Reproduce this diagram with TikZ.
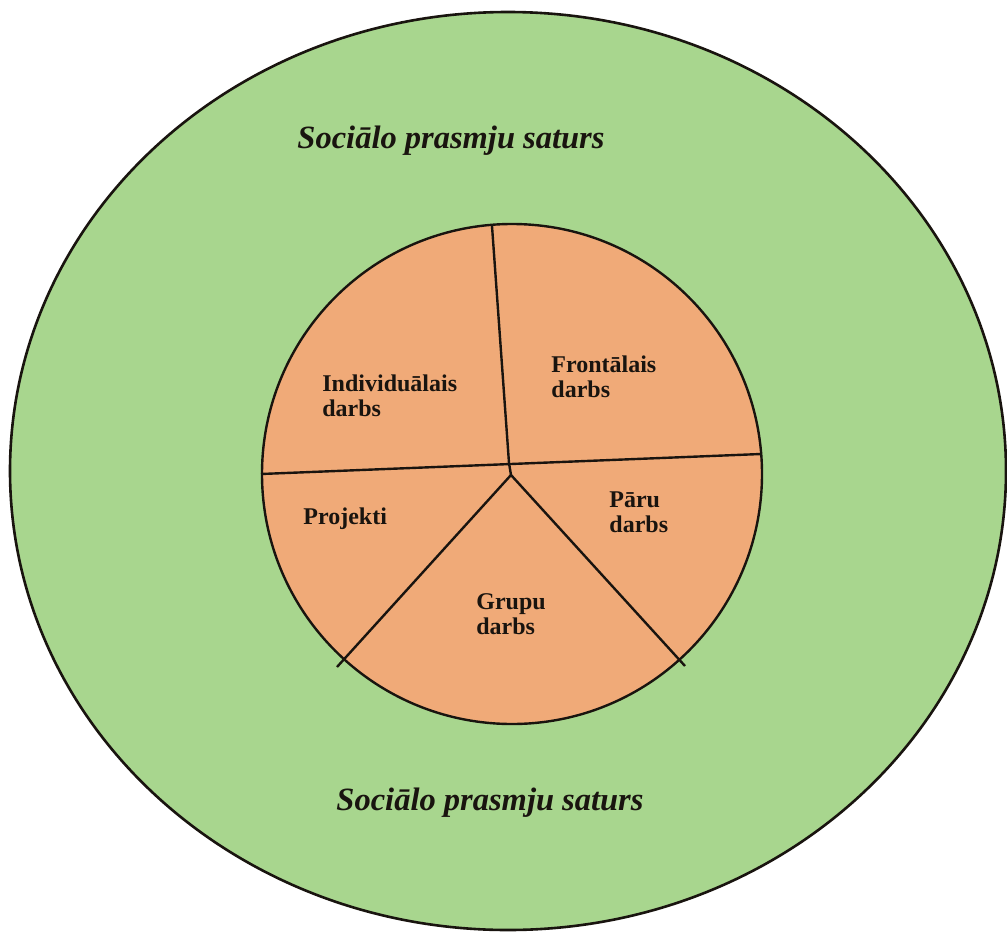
\documentclass[tikz,border=0pt]{standalone}
\usepackage{fontspec}
\setmainfont{Liberation Serif}
\definecolor{outergreen}{RGB}{168,214,142}
\definecolor{innerorange}{RGB}{240,170,120}
\definecolor{inkc}{RGB}{25,20,15}
\begin{document}
\begin{tikzpicture}[x=0.5pt,y=-0.5pt,
  sector/.style={font=\bfseries\fontsize{12}{12.5}\selectfont, align=left, anchor=west, inner sep=0pt, text=inkc},
  titletext/.style={font=\bfseries\itshape\fontsize{16.25}{18}\selectfont, inner sep=0pt, text=inkc},
  divider/.style={draw=inkc, line width=1.2pt}]
\useasboundingbox (0,0) rectangle (1007,932);
\fill[white] (0,0) rectangle (1007,932);
% outer ring
\filldraw[fill=outergreen, draw=inkc, line width=1.3pt] (508,471) ellipse [x radius=249pt, y radius=229.5pt];
% inner disc
\filldraw[fill=innerorange, draw=inkc, line width=1.2pt] (512,474) circle [radius=125pt];
% divider points
\coordinate (top) at (492,226);
\coordinate (hub) at (509,463);
\coordinate (left) at (261,474);
\coordinate (right) at (761,454);
\coordinate (yhub) at (511,475);
\coordinate (ll) at (337,667);
\coordinate (lr) at (685,666);
\draw[divider] (top) -- (hub);
\draw[divider] (left) -- (right);
\draw[divider] (hub) -- (yhub);
\draw[divider] (ll) -- (yhub) -- (lr);
% labels
\node[titletext] (t1) at (451,141) {Sociālo prasmju saturs};
\node[titletext] (t2) at (490,803) {Sociālo prasmju saturs};
\node[sector] (ind) at (322,396) {Individuālais\\darbs};
\node[sector] (fro) at (551,377) {Frontālais\\darbs};
\node[sector] (pro) at (303,519) {Projekti};
\node[sector] (par) at (609,512) {Pāru\\darbs};
\node[sector] (gru) at (476,614) {Grupu\\darbs};
\end{tikzpicture}
\end{document}
